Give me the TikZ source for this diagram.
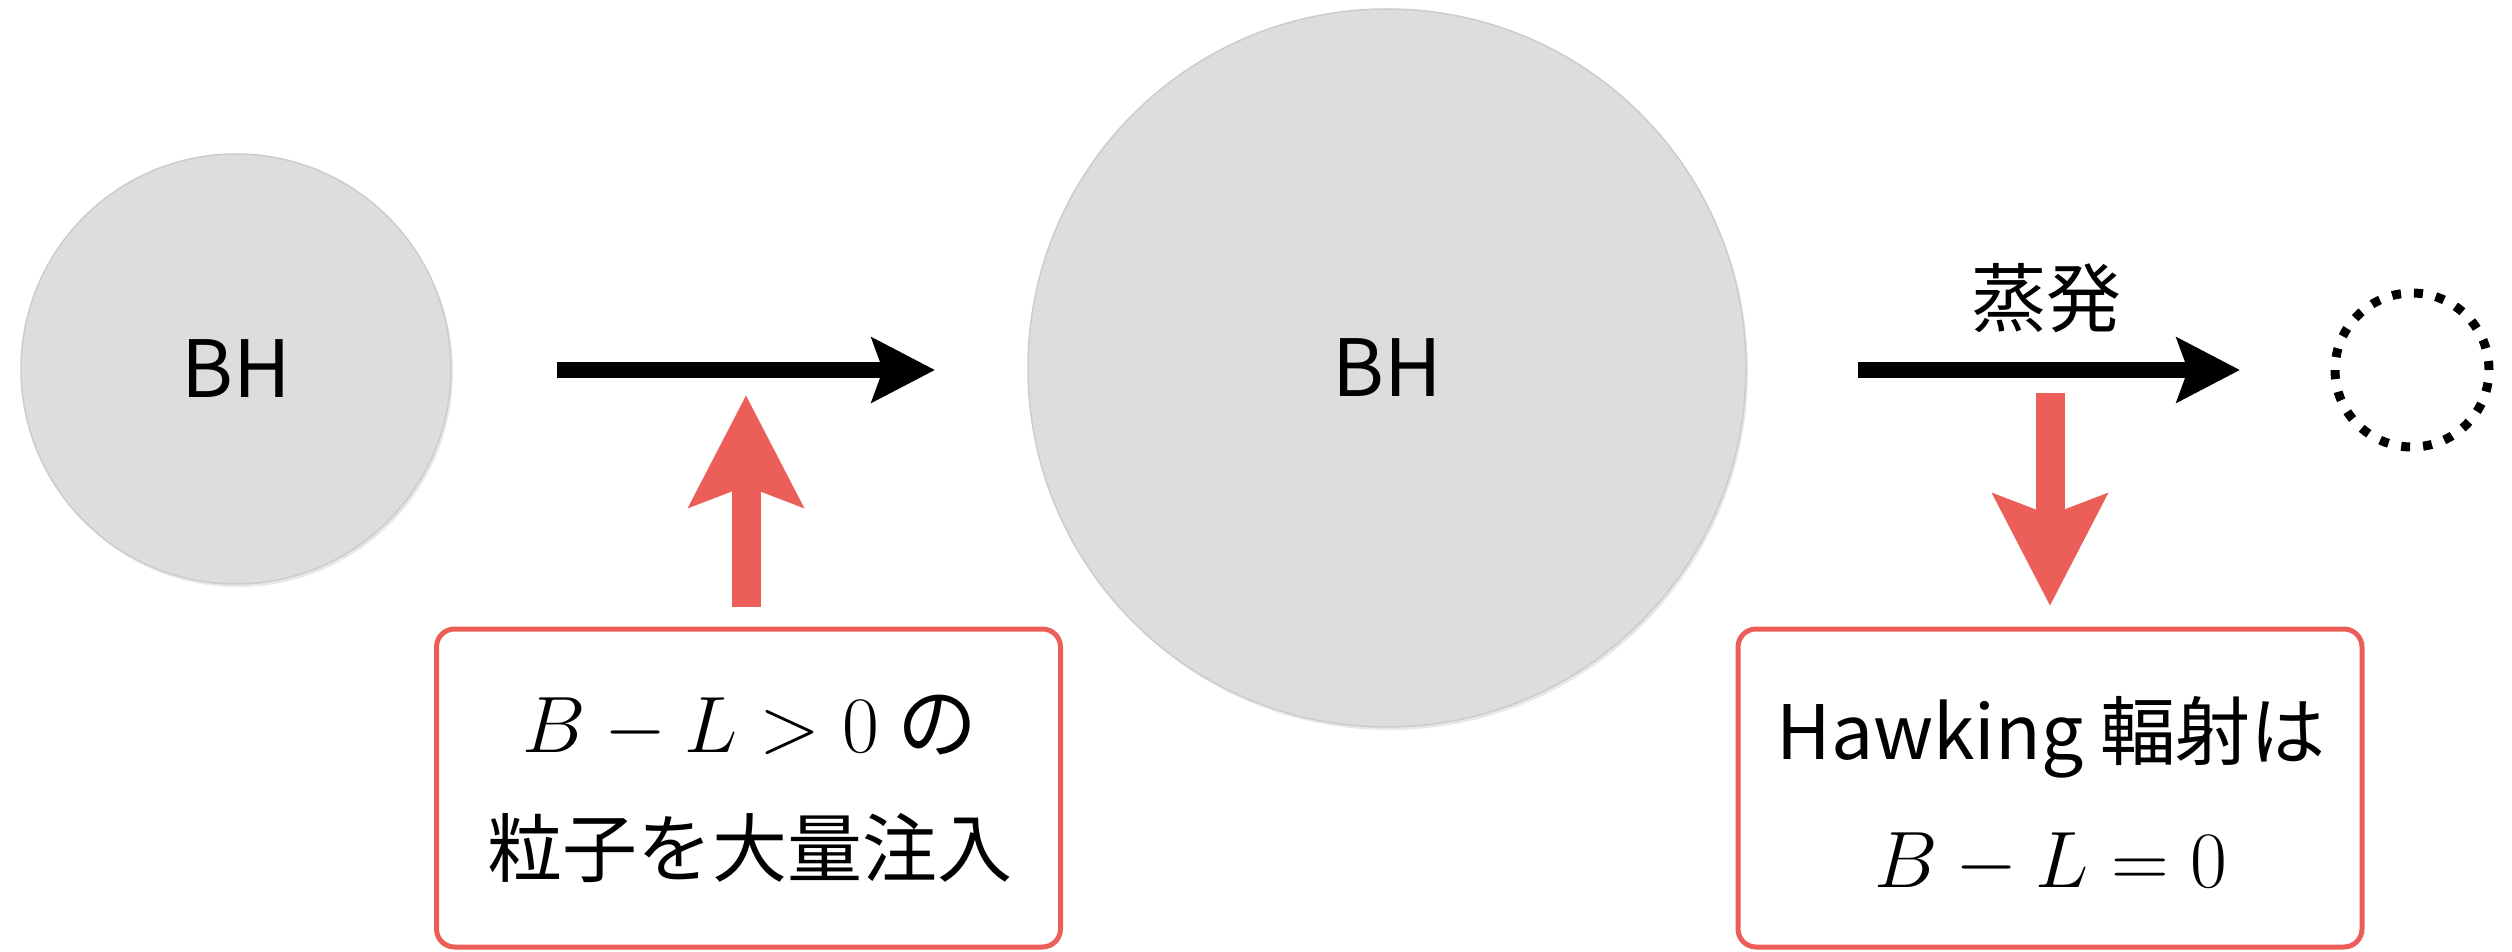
\RequirePackage{fix-cm}
\documentclass[tikz,border=0pt]{standalone}
\usepackage{fontspec}
\setmainfont{Noto Sans CJK JP}
\usetikzlibrary{arrows.meta,shadows}
\definecolor{bhgray}{RGB}{220,221,223}
\definecolor{bhedge}{RGB}{204,204,206}
\definecolor{redc}{RGB}{236,95,89}
\begin{document}
\begin{tikzpicture}[x=1pt,y=-1pt,
  bh/.style={circle, fill=bhgray, draw=bhedge, line width=1.5pt, inner sep=0pt,
    font=\fontsize{79}{90}\selectfont,
    drop shadow={shadow xshift=2pt, shadow yshift=-3pt, opacity=0.18}},
  flow/.style={line width=16pt, -{Stealth[length=63pt,width=64pt,inset=11pt]}},
  redarrow/.style={draw=redc, line width=29pt, -{Stealth[length=111pt,width=112pt,inset=20pt]}},
  callout/.style={draw=redc, line width=5pt, rounded corners=18pt, fill=white,
    minimum width=624pt, minimum height=318pt, inner sep=0pt,
    drop shadow={shadow xshift=-1pt, shadow yshift=-2pt, opacity=0.12}},
  txt/.style={font=\fontsize{75}{90}\selectfont, anchor=base, inner sep=0pt},
  mtxt/.style={font=\fontsize{80}{90}\selectfont, anchor=base, inner sep=0pt},
  gone/.style={circle, draw, line width=9pt, inner sep=0pt, dash pattern=on 9pt off 13pt}
]
\useasboundingbox (0,0) rectangle (2512,952);

% black holes
\node[bh, minimum size=430pt] (bh1) at (236,369) {BH};
\node[bh, minimum size=718pt] (bh2) at (1387,368) {BH};
\node[gone, minimum size=154pt] (vanish) at (2412,370) {};

% process arrows
\coordinate (a1s) at (557,370);
\coordinate (a1e) at (935,370);
\draw[flow] (a1s) -- (a1e);
\coordinate (a2s) at (1858,370);
\coordinate (a2e) at (2240,370);
\draw[flow] (a2s) -- (a2e);
\node[txt, anchor=center] (evap) at (2046,298) {蒸発};

% callout boxes
\node[callout] (box1) at (748.5,788) {};
\node[callout] (box2) at (2050,788) {};
\node[mtxt] (b1l1) at (750,752) {$B-L>0$ の};
\node[txt] (b1l2) at (750,876) {粒子を大量注入};
\node[txt] (b2l1) at (2051,759) {Hawking 輻射は};
\node[mtxt] (b2l2) at (2051,887) {$B-L=0$};

% red arrows
\coordinate (r1s) at (746,607);
\coordinate (r1e) at (746,395);
\draw[redarrow] (r1s) -- (r1e);
\coordinate (r2s) at (2050,393);
\coordinate (r2e) at (2050,606);
\draw[redarrow] (r2s) -- (r2e);
\end{tikzpicture}
\end{document}
